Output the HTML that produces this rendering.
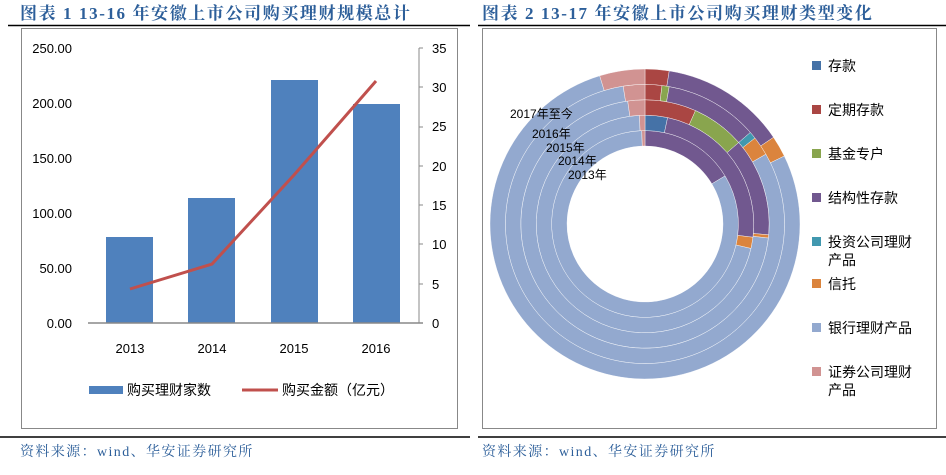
<!DOCTYPE html>
<html><head><meta charset="utf-8"><style>
body{margin:0;background:#fff;width:946px;height:470px;overflow:hidden;font-family:"Liberation Sans","Noto Sans CJK SC",sans-serif}
svg text{font-family:"Liberation Sans","Noto Sans CJK SC",sans-serif}
.t{font-family:"Liberation Serif","Noto Serif CJK SC",serif;font-weight:bold;fill:#2d5f9a;font-size:17px;letter-spacing:1.6px}
.f{font-family:"Liberation Serif","Noto Serif CJK SC",serif;fill:#2d5f9a;font-size:14px;letter-spacing:1.4px}
</style></head><body>
<svg id="s" width="946" height="470" xmlns="http://www.w3.org/2000/svg">
<text class="t" x="20" y="19">图表 1  13-16 年安徽上市公司购买理财规模总计</text>
<text class="t" x="482" y="19">图表 2  13-17 年安徽上市公司购买理财类型变化</text>
<line x1="8" y1="25.5" x2="470" y2="25.5" stroke="#000" stroke-width="1.5"/>
<line x1="478" y1="25.5" x2="946" y2="25.5" stroke="#000" stroke-width="1.5"/>
<rect x="21.5" y="28.5" width="436" height="400" fill="none" stroke="#888"/>
<rect x="482.5" y="28.5" width="454" height="400" fill="none" stroke="#888"/>
<line x1="0" y1="437" x2="470" y2="437" stroke="#000" stroke-width="1.5"/>
<line x1="478" y1="437" x2="946" y2="437" stroke="#000" stroke-width="1.5"/>
<text class="f" x="20" y="456">资料来源：wind、华安证券研究所</text>
<text class="f" x="482" y="456">资料来源：wind、华安证券研究所</text>
<g font-size="13" text-anchor="end" fill="#000">
<text x="72" y="53">250.00</text><text x="72" y="108">200.00</text><text x="72" y="163">150.00</text>
<text x="72" y="218">100.00</text><text x="72" y="273">50.00</text><text x="72" y="328">0.00</text>
</g>
<g font-size="13" fill="#000">
<text x="432" y="53">35</text><text x="432" y="92">30</text><text x="432" y="131">25</text><text x="432" y="171">20</text>
<text x="432" y="210">15</text><text x="432" y="249">10</text><text x="432" y="289">5</text><text x="432" y="328">0</text>
</g>
<g stroke="#888"><line x1="419" y1="48" x2="419" y2="323"/>
<line x1="419" y1="48" x2="423" y2="48"/><line x1="419" y1="87" x2="423" y2="87"/><line x1="419" y1="127" x2="423" y2="127"/><line x1="419" y1="166" x2="423" y2="166"/><line x1="419" y1="205" x2="423" y2="205"/><line x1="419" y1="244" x2="423" y2="244"/><line x1="419" y1="284" x2="423" y2="284"/>
</g>
<g fill="#4f81bd"><rect x="106" y="237" width="47" height="86"/><rect x="188" y="198" width="47" height="125"/><rect x="271" y="80" width="47" height="243"/><rect x="353" y="104" width="47" height="219"/></g>
<line x1="88" y1="323" x2="423" y2="323" stroke="#888" stroke-width="1.5"/>
<polyline points="130,289 212,264 294,175 376,81" fill="none" stroke="#c0504d" stroke-width="3"/>
<g font-size="13" text-anchor="middle" fill="#000"><text x="130" y="353">2013</text><text x="212" y="353">2014</text><text x="294" y="353">2015</text><text x="376" y="353">2016</text></g>
<rect x="89" y="386" width="34" height="8" fill="#4f81bd"/>
<text x="127" y="395" font-size="14">购买理财家数</text>
<line x1="242" y1="390" x2="278" y2="390" stroke="#c0504d" stroke-width="3"/>
<text x="282" y="395" font-size="14">购买金额（亿元）</text>
<g id="d"></g>
<g font-size="12" fill="#000">
<text x="510" y="118">2017年至今</text><text x="532" y="138">2016年</text><text x="546" y="152">2015年</text><text x="558" y="165">2014年</text><text x="568" y="179">2013年</text>
</g>
<g font-size="14" fill="#000">
<rect x="812" y="61" width="9" height="9" fill="#4572a7"/><text x="828" y="71">存款</text>
<rect x="812" y="105" width="9" height="9" fill="#aa4643"/><text x="828" y="115">定期存款</text>
<rect x="812" y="149" width="9" height="9" fill="#89a54e"/><text x="828" y="159">基金专户</text>
<rect x="812" y="193" width="9" height="9" fill="#71588f"/><text x="828" y="203">结构性存款</text>
<rect x="812" y="237" width="9" height="9" fill="#4198af"/><text x="828" y="247">投资公司理财</text><text x="828" y="265">产品</text>
<rect x="812" y="279" width="9" height="9" fill="#db843d"/><text x="828" y="289">信托</text>
<rect x="812" y="323" width="9" height="9" fill="#93a9cf"/><text x="828" y="333">银行理财产品</text>
<rect x="812" y="367" width="9" height="9" fill="#d19392"/><text x="828" y="377">证券公司理财</text><text x="828" y="395">产品</text>
</g>
</svg>
<script>
var C={b:"#4572a7",r:"#aa4643",g:"#89a54e",p:"#71588f",c:"#4198af",o:"#db843d",l:"#93a9cf",k:"#d19392"};
var rings=[
[["p",0,59],["l",59,358],["k",358,360]],
[["b",0,12],["p",12,97],["o",97,103],["l",103,357],["k",357,360]],
[["r",0,24],["g",24,49],["p",49,95],["o",95,96.5],["l",96.5,352],["k",352,360]],
[["r",0,7],["g",7,10],["p",10,49],["c",49,52],["o",52,60],["l",60,351],["k",351,360]],
[["r",0,9],["p",9,56],["o",56,64],["l",64,343],["k",343,360]]];
var cx=645,cy=224,g=document.getElementById("d"),h="";
function pt(r,a){a=(a-90)*Math.PI/180;return (cx+r*Math.cos(a)).toFixed(2)+","+(cy+r*Math.sin(a)).toFixed(2);}
rings.forEach(function(ring,i){var r0=78+15.4*i,r1=r0+15.4;
ring.forEach(function(s){var a0=s[1],a1=s[2];if(a1-a0>=359.9)a1=a0+359.9;var L=(a1-a0)>180?1:0;
h+='<path d="M'+pt(r1,a0)+' A'+r1+','+r1+' 0 '+L+' 1 '+pt(r1,a1)+' L'+pt(r0,a1)+' A'+r0+','+r0+' 0 '+L+' 0 '+pt(r0,a0)+'Z" fill="'+C[s[0]]+'" stroke="#fff" stroke-width="0.4"/>';});});
g.innerHTML=h;
</script>
</body></html>
